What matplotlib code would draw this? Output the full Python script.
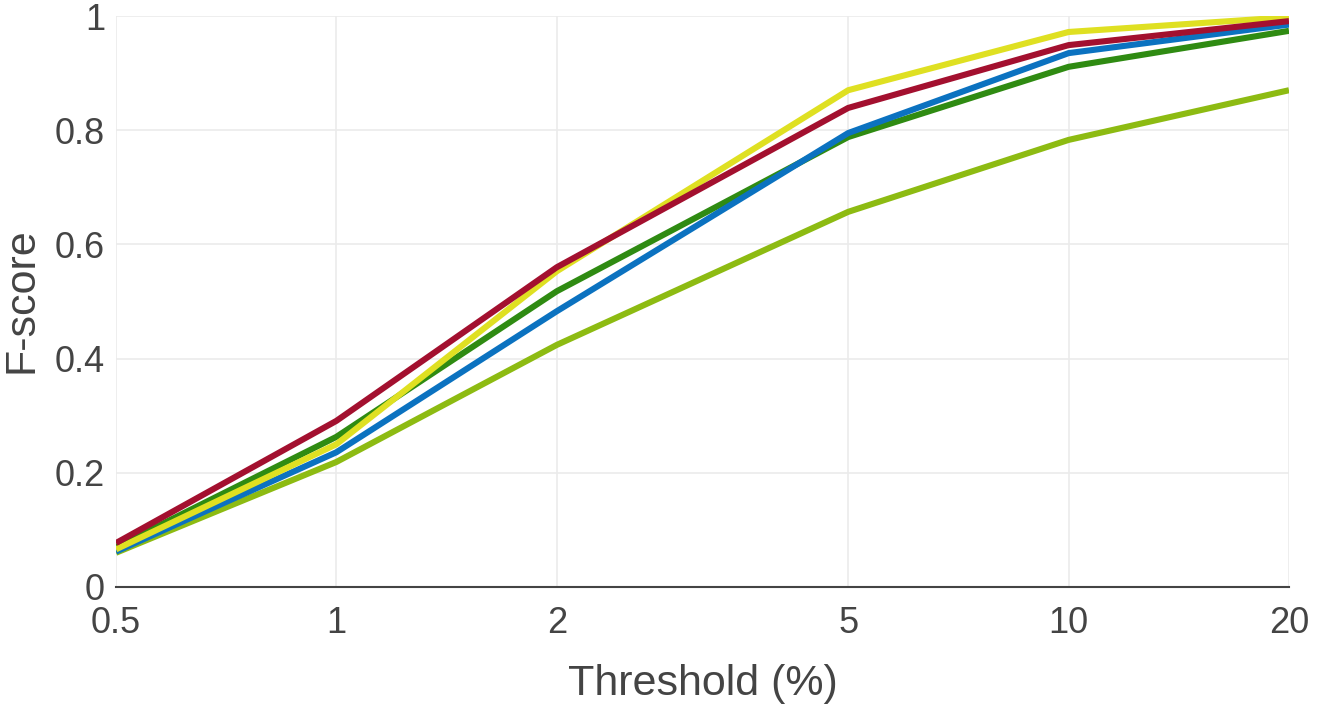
import matplotlib
matplotlib.use("Agg")
import matplotlib.pyplot as plt
from matplotlib.ticker import FixedLocator, NullLocator

thresholds = [0.5, 1, 2, 5, 10, 20]
tick_labels = ["0.5", "1", "2", "5", "10", "20"]

light_green = [0.060, 0.219, 0.424, 0.657, 0.783, 0.870]
green = [0.070, 0.263, 0.518, 0.788, 0.911, 0.974]
blue = [0.062, 0.236, 0.483, 0.795, 0.935, 0.985]
yellow = [0.066, 0.250, 0.553, 0.870, 0.972, 0.998]
red = [0.077, 0.291, 0.560, 0.839, 0.949, 0.991]

series = [
    (light_green, "#8dbb12"),
    (green, "#2f8b12"),
    (blue, "#0b72c0"),
    (yellow, "#dfe022"),
    (red, "#a3102f"),
]

plt.rcParams['font.family'] = ['Liberation Sans', 'DejaVu Sans']
W, H = 1321, 713
fig = plt.figure(figsize=(W/100, H/100), dpi=100)
ax = fig.add_axes([116/W, 1-587/H, (1289-116)/W, (587-16)/H])

for vals, col in series:
    ax.plot(thresholds, vals, color=col, lw=4.4, solid_capstyle='butt', solid_joinstyle='round', zorder=3)

ax.set_xscale('log')
ax.set_xlim(0.5, 20)
ax.set_ylim(0, 1)
ax.xaxis.set_major_locator(FixedLocator(thresholds))
ax.xaxis.set_minor_locator(NullLocator())
ax.set_xticklabels(tick_labels)
yt = [0, 0.2, 0.4, 0.6, 0.8, 1]
ax.set_yticks(yt)
ax.set_yticklabels(["0", "0.2", "0.4", "0.6", "0.8", "1"])

ax.grid(True, color="#ebebeb", lw=1.2, zorder=0)
for s in ['top', 'right', 'left']:
    ax.spines[s].set_visible(False)
ax.spines['bottom'].set_color('#444444')
ax.spines['bottom'].set_linewidth(1.5)
ax.spines['bottom'].set_zorder(4)

ax.tick_params(axis='both', length=0, labelsize=26, colors='#444444')
ax.tick_params(axis='x', pad=14)
ax.tick_params(axis='y', pad=8)

fig.text(703/W, 1-695/H, "Threshold (%)", fontsize=31, color='#444444',
         ha='center', va='baseline')
fig.text(32/W, 1-300/H, "F-score", fontsize=31, color='#444444',
         ha='center', va='baseline', rotation=90, rotation_mode='anchor')

fig.savefig("out.png", dpi=100)
